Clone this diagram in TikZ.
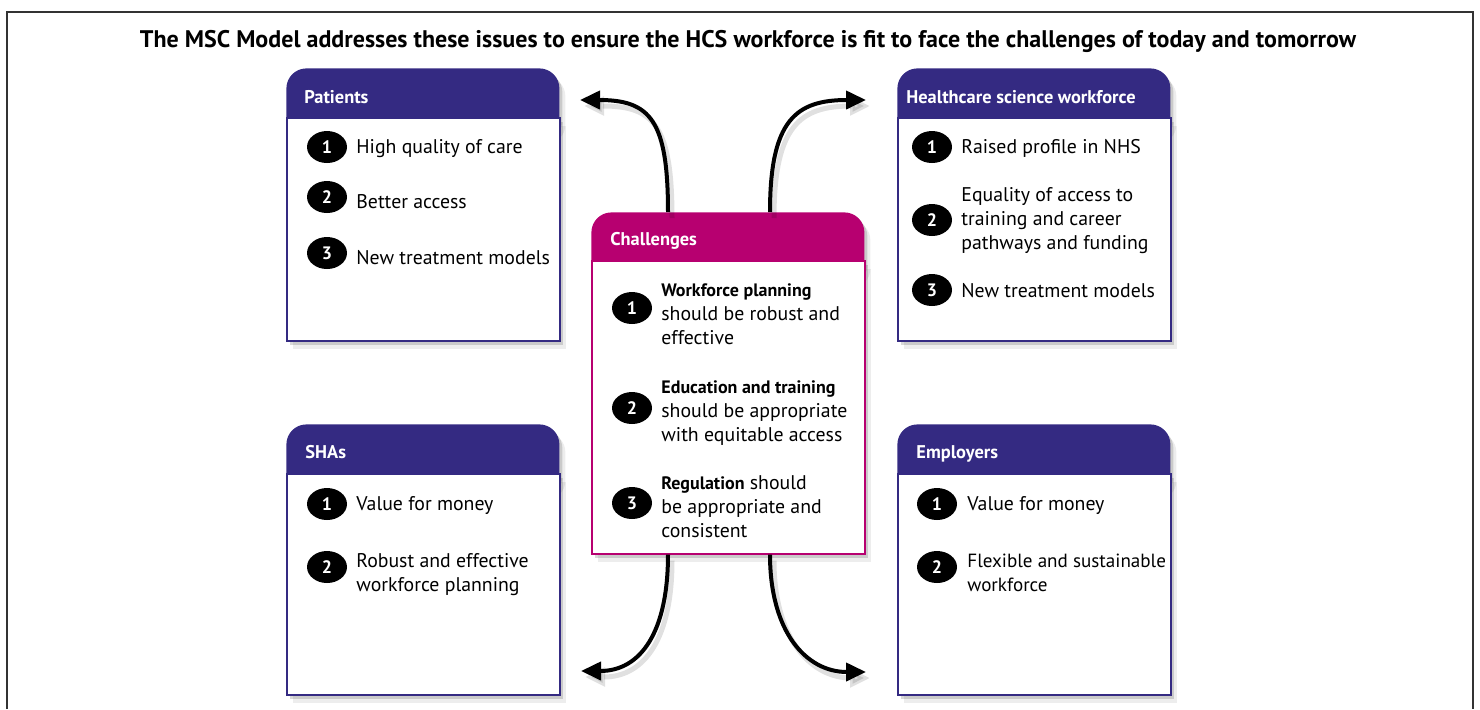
\documentclass[tikz,border=0pt]{standalone}
\usepackage{fontspec}
\setmainfont{PT Sans}
\usetikzlibrary{arrows.meta, positioning, shadows, shapes.geometric}
\definecolor{nhsBlue}{RGB}{52,42,130}
\definecolor{nhsMagenta}{RGB}{183,0,112}
\definecolor{frameGray}{gray}{0.2}
\newcommand{\keyTerm}[1]{{\fontsize{9}{12}\selectfont\bfseries #1}}

\begin{document}
\begin{tikzpicture}[x=0.5pt, y=-0.5pt,
    softShadow/.style={drop shadow={shadow xshift=1.5pt, shadow yshift=-2pt, opacity=0.15, fill=black},
                       drop shadow={shadow xshift=3pt, shadow yshift=-4pt, opacity=0.07, fill=black}},
    head/.style={anchor=north west, minimum width=136.5pt, minimum height=34pt, rounded corners=10pt, softShadow},
    body/.style={anchor=north west, draw, line width=0.8pt, fill=white, minimum width=136.5pt, softShadow},
    headText/.style={anchor=base west, inner sep=0, text=white, font=\bfseries\fontsize{9.2}{12}\selectfont},
    item/.style={anchor=base west, inner sep=0, align=left, font=\fontsize{9.9}{12}\selectfont},
    num/.style={ellipse, fill=black, text=white, minimum width=20pt, minimum height=16pt, inner sep=0, font=\bfseries\fontsize{9}{9}\selectfont},
    flow/.style={line width=2pt, -{Triangle[length=10pt, width=9pt]}},
    flowShadow/.style={line width=2.5pt, black, opacity=0.12, -{Triangle[length=10pt, width=9pt]}, transform canvas={xshift=2pt, yshift=-3pt}}
]
    \useasboundingbox (0,0) rectangle (1480,709);
    % open frame, no bottom edge
    \draw[frameGray, line width=1pt] (6.5,709) -- (6.5,11.5) -- (1473,11.5) -- (1473,709);

    \node[anchor=base, inner sep=0, font=\bfseries\fontsize{12}{14}\selectfont] (title) at (748,47)
        {The MSC Model addresses these issues to ensure the HCS workforce is fit to face the challenges of today and tomorrow};

    % Patients
    \node[head, fill=nhsBlue] (patHead) at (286,68) {};
    \node[body, draw=nhsBlue, minimum height=111.5pt] (pat) at (286,117) {};
    \node[headText] (patTitle) at (304,103) {Patients};
    \node[num] (pat1) at (327,147) {1};
    \node[num] (pat2) at (327,197) {2};
    \node[num] (pat3) at (327,253) {3};
    \node[item] (patText1) at (356,153) {High quality of care};
    \node[item] (patText2) at (356,208) {Better access};
    \node[item] (patText3) at (356,264) {New treatment models};

    % Healthcare science workforce
    \node[head, fill=nhsBlue] (hcsHead) at (897,68) {};
    \node[body, draw=nhsBlue, minimum height=111.5pt] (hcs) at (897,117) {};
    \node[headText] (hcsTitle) at (906,103) {Healthcare science workforce};
    \node[num] (hcs1) at (932,147) {1};
    \node[num] (hcs2) at (932,220) {2};
    \node[num] (hcs3) at (932,290) {3};
    % multi-line items sit on their last baseline
    \node[item] (hcsText1) at (961,153) {Raised profile in NHS};
    \node[item] (hcsText2) at (961,249) {Equality of access to\\training and career\\pathways and funding};
    \node[item] (hcsText3) at (961,297) {New treatment models};

    % SHAs
    \node[head, fill=nhsBlue] (shaHead) at (286,424) {};
    \node[body, draw=nhsBlue, minimum height=110.5pt] (sha) at (286,473) {};
    \node[headText] (shaTitle) at (305,458) {SHAs};
    \node[num] (sha1) at (327,504) {1};
    \node[num] (sha2) at (327,567) {2};
    \node[item] (shaText1) at (356,510) {Value for money};
    \node[item] (shaText2) at (356,591) {Robust and effective\\workforce planning};

    % Employers
    \node[head, fill=nhsBlue] (empHead) at (897,424) {};
    \node[body, draw=nhsBlue, minimum height=110.5pt] (emp) at (897,473) {};
    \node[headText] (empTitle) at (916,458) {Employers};
    \node[num] (emp1) at (937,504) {1};
    \node[num] (emp2) at (937,567) {2};
    \node[item] (empText1) at (967,510) {Value for money};
    \node[item, font=\fontsize{9.55}{12}\selectfont] (empText2) at (967,591) {Flexible and sustainable\\workforce};

    % Challenges (centre)
    \node[head, fill=nhsMagenta] (chalHead) at (591,212) {};
    \node[body, draw=nhsMagenta, minimum height=146.5pt] (chal) at (591,260) {};
    \node[headText] (chalTitle) at (610,245) {Challenges};
    \node[num] (chal1) at (632,308) {1};
    \node[num] (chal2) at (632,408) {2};
    \node[num] (chal3) at (632,503) {3};
    \node[item] (chalText1) at (661,344) {\keyTerm{Workforce planning}\\should be robust and\\effective};
    \node[item] (chalText2) at (661,441) {\keyTerm{Education and training}\\should be appropriate\\with equitable access};
    \node[item] (chalText3) at (661,537) {\keyTerm{Regulation} should\\be appropriate and\\consistent};

    % arrow ends
    \coordinate (toPat) at (580,100);
    \coordinate (toHcs) at (866,100);
    \coordinate (toSha) at (581,671);
    \coordinate (toEmp) at (866,672);

    \draw[flowShadow] ([xshift=38.5pt]chalHead.north west) .. controls +(0,-92) and +(70,0) .. (toPat);
    \draw[flowShadow] ([xshift=89.5pt]chalHead.north west) .. controls +(0,-92) and +(-70,0) .. (toHcs);
    \draw[flowShadow] ([xshift=38.5pt]chal.south west) .. controls +(0,77) and +(60,0) .. (toSha);
    \draw[flowShadow] ([xshift=89.5pt]chal.south west) .. controls +(0,77) and +(-60,0) .. (toEmp);

    \draw[flow] ([xshift=38.5pt]chalHead.north west) .. controls +(0,-92) and +(70,0) .. (toPat);
    \draw[flow] ([xshift=89.5pt]chalHead.north west) .. controls +(0,-92) and +(-70,0) .. (toHcs);
    \draw[flow] ([xshift=38.5pt]chal.south west) .. controls +(0,77) and +(60,0) .. (toSha);
    \draw[flow] ([xshift=89.5pt]chal.south west) .. controls +(0,77) and +(-60,0) .. (toEmp);
\end{tikzpicture}
\end{document}
